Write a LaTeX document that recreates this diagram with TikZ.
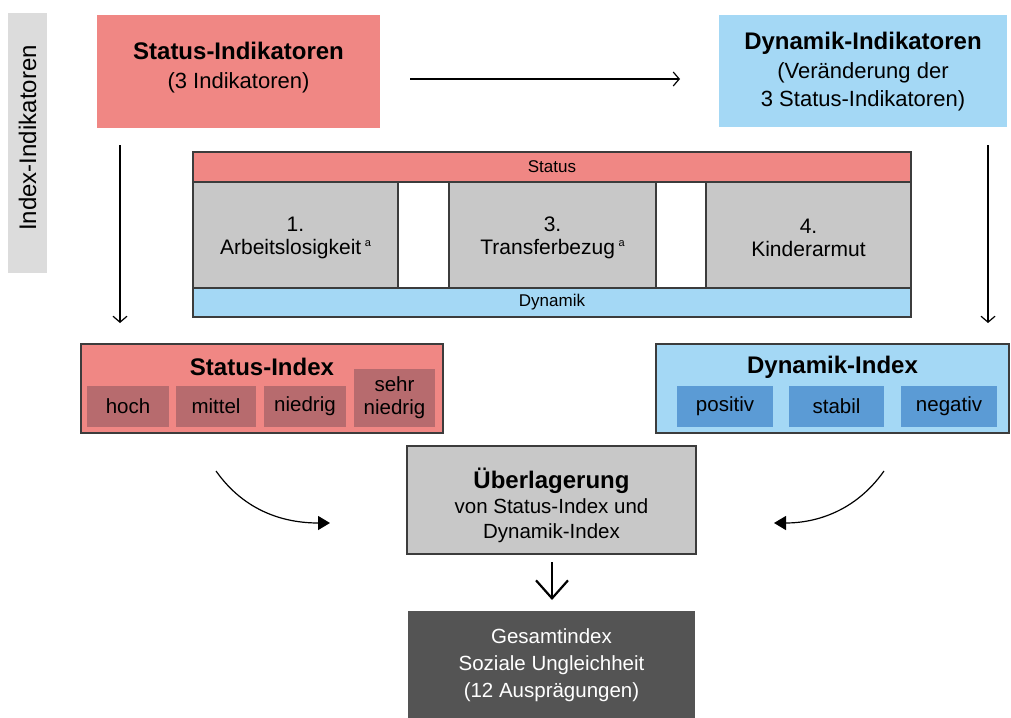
\documentclass[tikz,border=0pt]{standalone}
\usepackage{fontspec}
\setmainfont{Liberation Sans}
\usetikzlibrary{arrows.meta}
\definecolor{sred}{RGB}{240,135,132}
\definecolor{dblue}{RGB}{164,216,245}
\definecolor{gbox}{RGB}{200,200,200}
\definecolor{ssub}{RGB}{183,107,110}
\definecolor{dsub}{RGB}{91,155,213}
\definecolor{gdark}{RGB}{84,84,84}
\definecolor{ibar}{RGB}{220,220,220}
\definecolor{edgec}{RGB}{60,60,60}
\newcommand{\fsz}[2]{\fontsize{#1}{#2}\selectfont}
\newcommand{\supa}{\,{\fsz{11}{11}\raisebox{8pt}{a}}}
\tikzset{
  rect/.style={inner sep=0pt, outer sep=0pt, anchor=north west},
  framed/.style={rect, draw=edgec, line width=1.5pt},
  txt/.style={inner sep=0pt, outer sep=0pt, align=center, text=black},
  thin arrow/.style={line width=1.2pt, -{Straight Barb[length=6pt,width=14pt,line width=1.2pt]}},
  big arrow/.style={line width=2.2pt, -{Straight Barb[length=18pt,width=32pt,line width=2.2pt]}},
  curve arrow/.style={line width=1.2pt, -{Triangle[length=12pt,width=14pt]}},
}
\begin{document}
\begin{tikzpicture}[x=1pt,y=-1pt]
\useasboundingbox (0,0) rectangle (1011,717);
\fill[white] (0,0) rectangle (1011,717);

% side bar
\node[rect, fill=ibar, minimum width=39pt, minimum height=260pt] (bar) at (8,13) {};
\node[txt, rotate=90, font=\fsz{24}{28}] (bart) at (27.5,138) {Index-Indikatoren};

% top boxes
\node[rect, fill=sred, minimum width=283pt, minimum height=113pt] (si) at (97,15) {};
\node[txt, font=\fsz{22}{29}] (sit) at (238.5,68) {{\bfseries\fontsize{24}{29}\selectfont Status-Indikatoren}\\(3 Indikatoren)};
\node[rect, fill=dblue, minimum width=288pt, minimum height=112pt] (di) at (719,15) {};
\node[txt, font=\fsz{22}{28.5}] (dit) at (863,72) {{\bfseries\fontsize{24}{28.5}\selectfont Dynamik-Indikatoren}\\(Veränderung der\\3 Status-Indikatoren)};

% middle block
\node[framed, fill=sred, minimum width=718pt, minimum height=30pt, font=\fsz{17}{20}] (sbar) at (193,152) {Status};
\node[framed, fill=gbox, minimum width=205pt, minimum height=106pt] (g1) at (193,182) {};
\node[framed, fill=gbox, minimum width=207pt, minimum height=106pt] (g2) at (449,182) {};
\node[framed, fill=gbox, minimum width=205pt, minimum height=106pt] (g3) at (706,182) {};
\node[framed, fill=dblue, minimum width=718pt, minimum height=29pt, font=\fsz{17}{20}] (dbar) at (193,288) {Dynamik};
\node[txt, font=\fsz{21}{23}] (g1t) at ([yshift=-3pt]g1.center) {1.\\Arbeitslosigkeit\supa};
\node[txt, font=\fsz{21}{23}] (g2t) at ([yshift=-3pt]g2.center) {3.\\Transferbezug\supa};
\node[txt, font=\fsz{21}{23}] (g3t) at ([yshift=-3pt]g3.center) {4.\\Kinderarmut};

% Status-Index
\node[framed, fill=sred, minimum width=362pt, minimum height=89pt] (six) at (81,344) {};
\node[txt, font=\bfseries\fsz{24}{28}] (sixt) at (262,367) {Status-Index};
\node[rect, fill=ssub, minimum width=82pt, minimum height=41pt, font=\fsz{20.5}{23}] (s1) at (87,386) {hoch};
\node[rect, fill=ssub, minimum width=80pt, minimum height=41pt, font=\fsz{20.5}{23}] (s2) at (176,386) {mittel};
\node[rect, fill=ssub, minimum width=82pt, minimum height=41pt, font=\fsz{20.5}{23}] (s3) at (264,386) {niedrig};
\node[rect, fill=ssub, minimum width=81pt, minimum height=58pt, font=\fsz{20.5}{23}, align=center] (s4) at (354,369) {sehr\\niedrig};

% Dynamik-Index
\node[framed, fill=dblue, minimum width=353pt, minimum height=89pt] (dix) at (656,344) {};
\node[txt, font=\bfseries\fsz{24}{28}] (dixt) at (832.5,367) {Dynamik-Index};
\node[rect, fill=dsub, minimum width=96pt, minimum height=41pt, font=\fsz{20.5}{23}] (d1) at (677,386) {positiv};
\node[rect, fill=dsub, minimum width=95pt, minimum height=41pt, font=\fsz{20.5}{23}] (d2) at (789,386) {stabil};
\node[rect, fill=dsub, minimum width=96pt, minimum height=41pt, font=\fsz{20.5}{23}] (d3) at (901,386) {negativ};

% Ueberlagerung
\node[framed, fill=gbox, minimum width=289pt, minimum height=108pt] (ub) at (407,446) {};
\node[txt, font=\fsz{20.5}{25}] (ubt) at (551.5,505) {{\bfseries\fontsize{24}{25}\selectfont Überlagerung}\\von Status-Index und\\Dynamik-Index};

% Gesamtindex
\node[rect, fill=gdark, minimum width=287pt, minimum height=108pt] (gi) at (408,611) {};
\node[txt, text=white, font=\fsz{20.5}{27}] (git) at (551.5,665) {Gesamtindex\\Soziale Ungleichheit\\(12 Ausprägungen)};

% connectors
\draw[thin arrow, shorten <=30pt, shorten >=39pt] (si.east |- 0,79) coordinate (a1) -- (di.west |- 0,79) coordinate (a2);
\draw[thin arrow, shorten <=17pt, shorten >=21pt] (si.south -| 120,0) -- (six.north -| 120,0);
\draw[thin arrow, shorten <=18pt, shorten >=21pt] (di.south -| 988,0) -- (dix.north -| 988,0);
\coordinate (cl1) at (216,471);
\coordinate (cl2) at (330,523);
\coordinate (cr1) at (884,471);
\coordinate (cr2) at (774,523);
\draw[curve arrow] (cl1) .. controls (245,512) and (285,523) .. (cl2);
\draw[curve arrow] (cr1) .. controls (855,512) and (815,523) .. (cr2);
\draw[big arrow, shorten <=8pt, shorten >=11pt] (ub.south -| 552,0) -- (gi.north -| 552,0);
\end{tikzpicture}
\end{document}
